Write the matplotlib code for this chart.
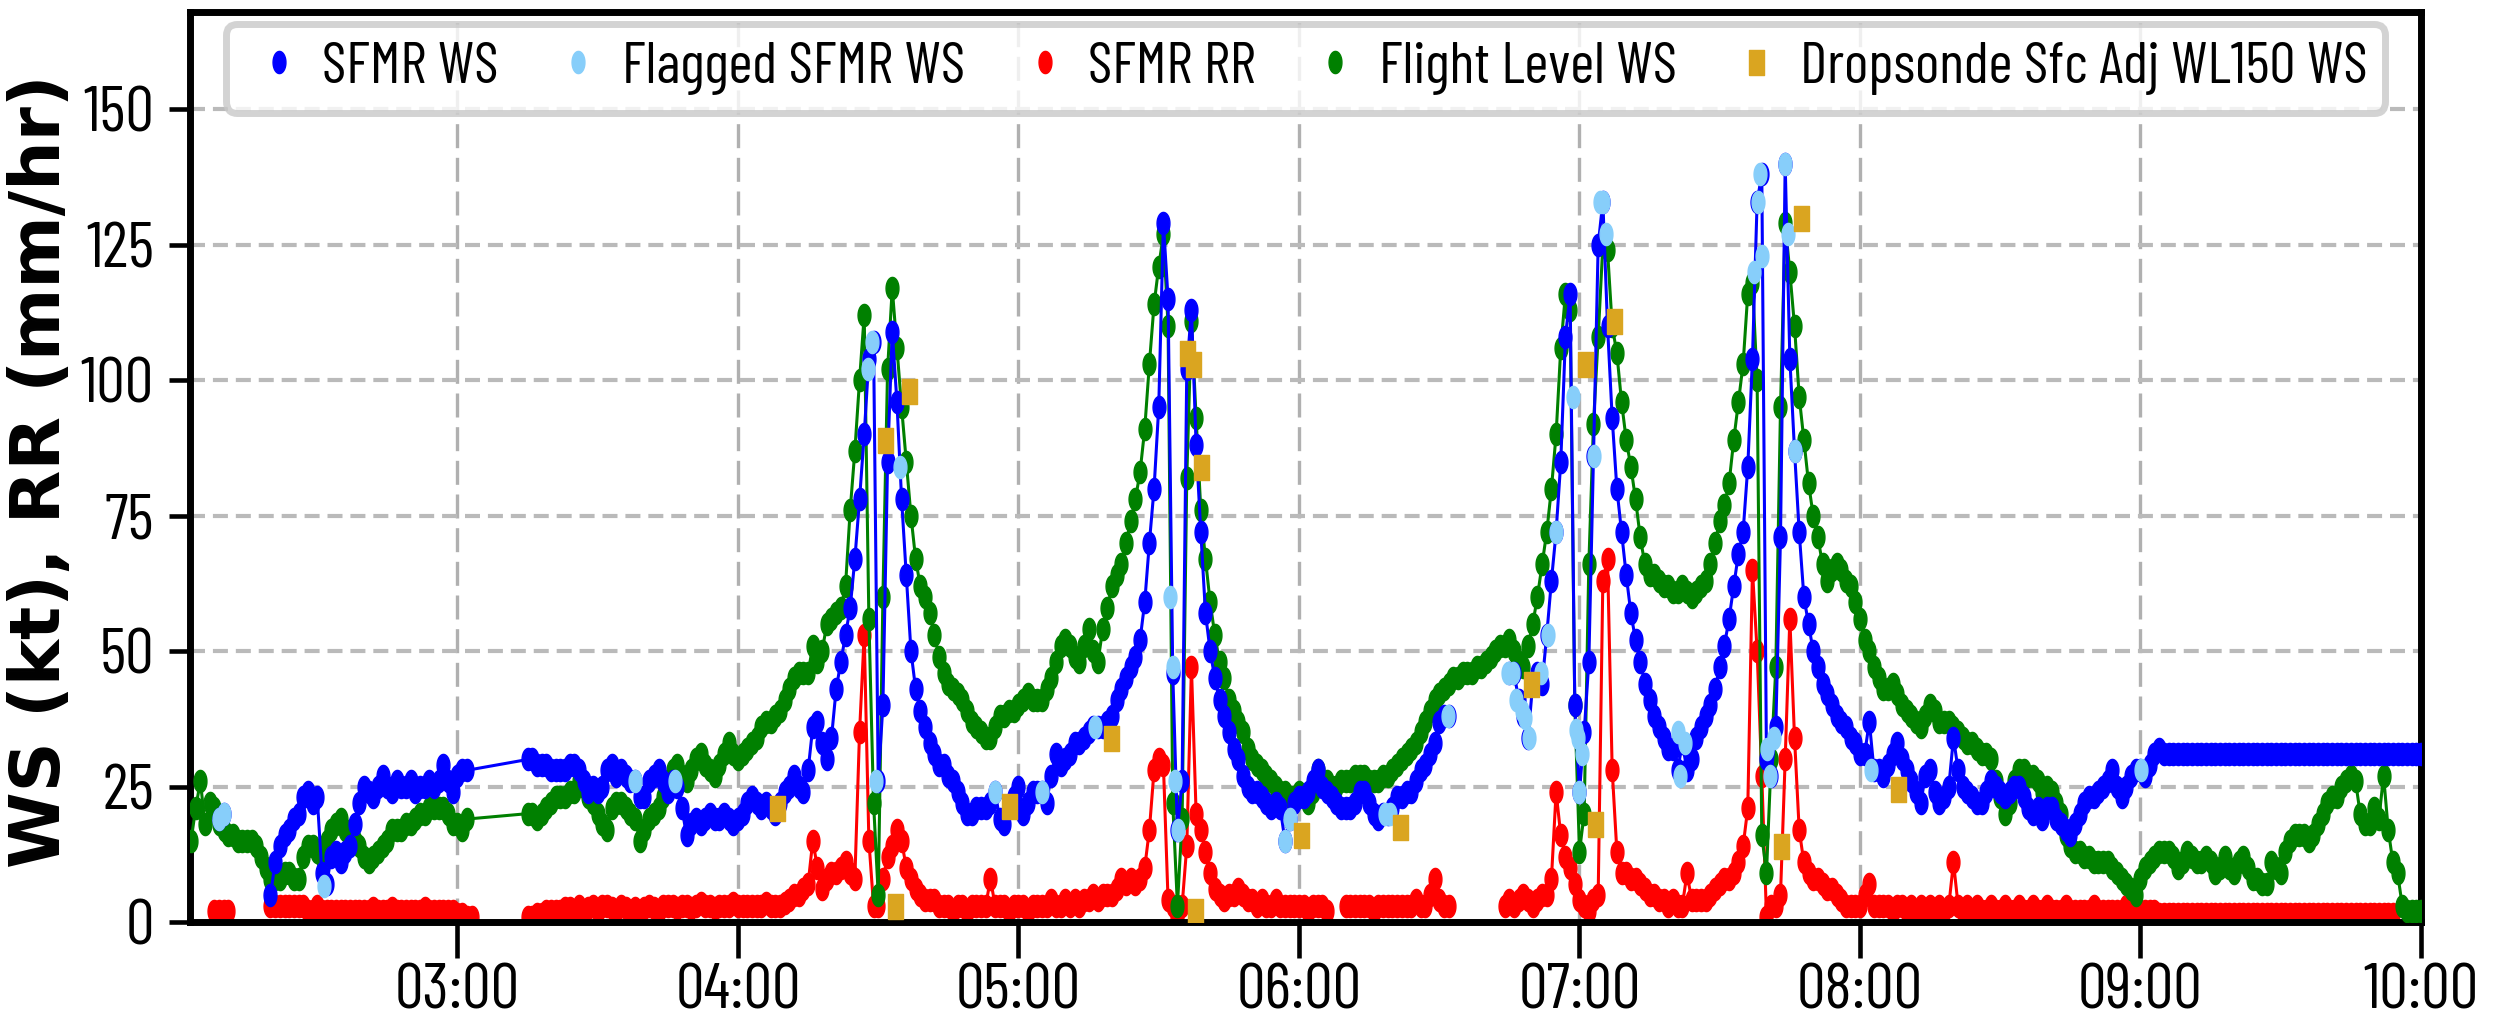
import numpy as np
import pandas as pd
import matplotlib
matplotlib.use('Agg')
import matplotlib.pyplot as plt
import matplotlib.dates as mdates
from matplotlib.ticker import MultipleLocator
from matplotlib.lines import Line2D

nan = np.nan

# one value per minute, minute 0 = 02:00 UTC, last = 10:00
sfmr_ws = [
    nan, nan, nan, nan, nan, nan, nan, nan, nan, 19,   # 02:00
    20, nan, nan, nan, nan, nan, nan, nan, nan, nan,
    5, 11, 14, 16, 17, 19, 20, 23, 24, 22,
    23, 9, 7, 12, 13, 11, 13, 14, 18, 22,
    25, 24, 23, 25, 27, 25, 24, 26, 25, 25,
    26, 24, 25, 25, 26, 25, 26, 29, 26, 24,
    27, 28, 28, nan, nan, nan, nan, nan, nan, nan,      # 03:00
    nan, nan, nan, nan, nan, 30, 30, 29, 29, 29,
    28, 28, 28, 28, 29, 29, 28, 26, 24, 25,
    24, 25, 28, 29, 27, 28, 27, 26, 26, 23,
    23, 26, 27, 28, 26, 24, 26, 25, 21, 16,
    18, 19, 18, 19, 20, 19, 19, 20, 19, 18,
    19, 20, 22, 23, 22, 21, 22, 21, 20, 22,            # 04:00
    24, 25, 27, 25, 24, 28, 36, 37, 33, 30,
    34, 43, 48, 53, 58, 67, 78, 90, 104, 107,
    26, 40, 85, 109, 96, 78, 64, 50, 43, 39,
    36, 33, 31, 29, 29, 27, 26, 24, 22, 20,
    20, 21, 21, 21, 22, 24, 19, 18, 21, 23,
    25, 20, 22, 24, 24, 24, 22, 27, 31, 29,            # 05:00
    30, 31, 33, 33, 34, 35, 36, 36, 36, 37,
    38, 41, 43, 45, 47, 49, 52, 59, 70, 80,
    95, 129, 115, 46, 17, 26, 102, 113, 88, 72,
    57, 50, 45, 41, 38, 35, 32, 30, 27, 25,
    24, 24, 23, 22, 21, 22, 21, 15, 19, 22,
    23, 23, 24, 26, 28, 25, 24, 23, 22, 21,            # 06:00
    21, 21, 22, 24, 24, 22, 20, 19, 20, 20,
    21, 23, 23, 24, 24, 26, 28, 29, 31, 33,
    37, 38, 38, nan, nan, nan, nan, nan, nan, nan,
    nan, nan, nan, nan, nan, 46, 46, 41, 38, 34,
    44, 46, 44, 53, 63, 72, 85, 108, 116, 40,
    24, 35, 48, 86, 125, 133, 110, 93, 80, 72,         # 07:00
    64, 57, 52, 48, 44, 41, 38, 36, 34, 32,
    32, 28, 33, 28, 30, 34, 36, 38, 40, 43,
    47, 51, 56, 62, 68, 72, 84, 104, 133, 138,
    30, 27, 36, 71, 140, 104, 87, 72, 60, 55,
    50, 47, 44, 42, 40, 38, 37, 36, 34, 33,
    31, 31, 37, 28, 28, 27, 29, 31, 33, 30,            # 08:00
    28, 26, 24, 22, 27, 28, 24, 22, 23, 25,
    34, 28, 25, 24, 23, 22, 22, 24, 26, 25,
    24, 23, 24, 25, 25, 23, 21, 20, 21, 19,
    21, 21, 19, 18, 17, 16, 18, 20, 22, 23,
    23, 24, 25, 26, 28, 25, 23, 25, 27, 28,
    28, 27, 29, 31, 32, 31, 31, 31, 31, 31,            # 09:00
] + [31] * 51

sfmr_rr = [
    nan, nan, nan, nan, nan, nan, nan, nan, 2, 2,      # 02:00
    2, 2, nan, nan, nan, nan, nan, nan, nan, nan,
    3, 3, 3, 3, 3, 3, 3, 3, 2, 2,
    3, 2, 2, 2, 2, 2, 2, 2, 2, 2,
    2, 2, 2.5, 2, 2, 2, 2.5, 2, 2, 2,
    2, 2, 2, 2.5, 2, 2, 2, 2, 2, 2,
    1.5, 1.5, 1, 1, nan, nan, nan, nan, nan, nan,      # 03:00
    nan, nan, nan, nan, nan, 1, 1, 1.5, 1.5, 2,
    2, 2, 2, 2.5, 2.5, 2, 3, 2, 2.5, 3,
    2, 3, 3, 2.5, 2, 3, 2.5, 2, 2.5, 2,
    2.5, 3, 2.5, 2, 3, 3, 3, 2.5, 3, 3,
    2.5, 3, 3.5, 3, 3, 2.5, 3, 3, 3, 3.5,
    3, 3, 3, 3, 3, 3, 3.5, 3, 3, 3,                    # 04:00
    3.5, 4, 5, 5, 6, 7, 15, 10, 6, 8,
    9, 9, 10, 11, 9, 8, 35, 53, 15, 3,
    3, 8, 12, 14, 17, 15, 10, 8, 6, 5,
    4, 4, 4, 3, 3, 3, 2, 3, 3, 2,
    3, 3, 3, 3, 8, 3, 3, 3, 2, 3,
    3, 3, 2, 3, 3, 3, 3, 4, 3, 3,                      # 05:00
    4, 3, 4, 3, 4, 4, 5, 4, 5, 5,
    5, 6, 8, 7, 8, 7, 8, 10, 17, 28,
    30, 29, 4, 3, 1, 3, 14, 47, 20, 17,
    13, 9, 6, 5, 4, 5, 5, 6, 5, 4,
    4, 3, 4, 3, 3, 4, 3, 3, 3, 3,
    3, 3, 2, 3, 3, 3, 2, nan, nan, nan,                # 06:00
    3, 3, 3, 3, 3, 3, 2, 3, 3, 3,
    3, 3, 3, 3, 3, 4, 3, 3, 5, 8,
    4, 3, 3, nan, nan, nan, nan, nan, nan, nan,
    nan, nan, nan, nan, 3, 4, 3, 4, 5, 4,
    3, 4, 5, 5, 8, 24, 16, 12, 10, 7,
    4, 3, 2, 4, 5, 63, 67, 28, 13, 9,                  # 07:00
    9, 8, 8, 7, 6, 5, 5, 4, 4, 3,
    4, 3, 3, 9, 4, 4, 4, 4, 5, 6,
    7, 8, 8, 9, 11, 14, 21, 65, 50, 27,
    1, 3, 3, 5, 30, 56, 34, 17, 11, 9,
    8, 8, 7, 6, 6, 5, 4, 3, 3, 3,
    3, 5, 7, 3, 3, 3, 3, 2, 3, 3,                      # 08:00
    2, 3, 2, 3, 2, 3, 2, 3, 2, 3,
    11, 3, 2, 3, 2, 3, 2, 2, 3, 2,
    2, 3, 2, 2, 3, 2, 2, 3, 2, 2,
    3, 2, 2, 2, 3, 2, 2, 2, 2, 2,
    3, 2, 2, 2, 2, 2, 2, 3, 2, 2,
    2, 2, 2, 2, 1.5, 1.5, 1.5, 1.5, 1.5, 1.5,          # 09:00
] + [1.5] * 45 + [nan] * 6

flight_ws = [
    nan, nan, nan, 15, 21, 26, 18, 22, 21, 18,         # 02:00
    17, 16, 16, 15, 15, 15, 15, 14, 12, 10,
    8, 8, 8, 9, 9, 8, 8, 12, 14, 14,
    13, 12, 15, 17, 18, 19, 17, 15, 15, 14,
    12, 11, 12, 13, 14, 15, 17, 17, 17, 18,
    18, 19, 20, 20, 21, 21, 21, 21, 20, 18,
    18, 17, 19, nan, nan, nan, nan, nan, nan, nan,     # 03:00
    nan, nan, nan, nan, nan, 20, 20, 19, 20, 21,
    22, 23, 23, 23, 24, 24, 26, 25, 23, 22,
    20, 18, 17, 21, 22, 22, 21, 20, 19, 15,
    17, 19, 20, 21, 23, 26, 28, 29, 27, 26,
    28, 30, 31, 29, 28, 27, 29, 31, 33, 31,
    30, 31, 32, 33, 34, 36, 37, 37, 38, 39,            # 04:00
    41, 43, 45, 46, 46, 46, 51, 48, 50, 55,
    56, 57, 58, 62, 76, 87, 100, 112, 56, 22,
    5, 60, 102, 117, 106, 95, 85, 75, 67, 62,
    60, 57, 53, 49, 46, 44, 43, 42, 41, 39,
    37, 36, 35, 34, 34, 36, 38, 38, 39, 39,
    40, 41, 42, 41, 41, 41, 43, 45, 48, 51,            # 05:00
    52, 51, 49, 48, 51, 54, 50, 48, 54, 58,
    62, 64, 66, 70, 74, 78, 83, 91, 103, 114,
    121, 127, 110, 22, 3, 19, 82, 111, 93, 76,
    67, 59, 53, 48, 45, 41, 39, 37, 35, 32,
    30, 29, 28, 27, 26, 25, 24, 24, 23, 23,
    24, 23, 22, 24, 28, 26, 26, 25, 25, 26,            # 06:00
    26, 26, 27, 27, 27, 26, 26, 26, 27, 27,
    28, 29, 30, 31, 32, 33, 35, 37, 39, 41,
    42, 43, 44, 45, 45, 46, 46, 46, 47, 47,
    48, 49, 50, 51, 51, 52, 50, 48, 47, 51,
    55, 60, 66, 72, 80, 90, 106, 116, 113, 40,
    13, 20, 66, 92, 108, 125, 124, 110, 105, 96,       # 07:00
    89, 84, 78, 71, 66, 64, 64, 63, 62, 62,
    61, 61, 62, 61, 60, 61, 62, 63, 66, 70,
    74, 77, 81, 89, 96, 103, 116, 118, 100, 16,
    9, 30, 47, 95, 129, 120, 110, 97, 89, 81,
    75, 71, 66, 63, 65, 66, 65, 63, 62, 59,
    56, 52, 50, 47, 45, 43, 43, 44, 42, 40,            # 08:00
    39, 38, 37, 36, 38, 40, 39, 37, 37, 37,
    36, 35, 34, 33, 33, 32, 31, 31, 30, 26,
    23, 20, 22, 26, 28, 28, 27, 27, 26, 24,
    25, 24, 22, 20, 16, 14, 13, 13, 12, 12,
    11, 11, 11, 11, 10, 9, 8, 7, 6, 5,
    8, 10, 11, 12, 13, 13, 13, 12, 10, 11,             # 09:00
    13, 12, 11, 11, 12, 11, 9, 10, 12, 10,
    9, 11, 12, 10, 8, 8, 7, 7, 11, 10,
    9, 13, 15, 16, 16, 16, 15, 16, 18, 20,
    22, 23, 23, 25, 26, 27, 26, 20, 18, 18,
    21, 19, 27, 17, 11, 9, 3, 2, 2, 2,
    2,                                                 # 10:00
]

# flagged SFMR winds (minutes after 02:00, kt)
flag_min = [9, 10, 31.5, 98, 106.5, 147.8, 148.6, 149.6, 154.6, 175, 185, 196.3,
            212.4, 213.1, 213.4, 214.1, 237, 238, 258.3, 259.5, 271.9,
            284.7, 285.7, 286.5, 287.6, 288.3, 289.3, 291.8, 293.2, 295,
            298.6, 299.3, 299.7, 300, 300.5, 303.2, 304.3, 305, 305.7,
            321, 321.4, 322.5, 337.4, 338.2, 338.7, 339.1, 340.1, 340.7, 341.7,
            344, 344.6, 346, 362.4, 420.1]
flag_ws = [19, 20, 6.6, 26, 26, 102, 107, 26, 84, 24, 24, 36,
           60, 47, 26, 17, 15, 19, 20, 20, 38,
           46, 46, 41, 39, 37.6, 34, 46, 53, 72,
           97, 35.5, 34, 24, 31, 86, 133, 133, 127,
           35, 27, 33, 120, 133, 138, 123, 32, 27, 34,
           140, 127, 87, 28, 28]

# dropsondes (minutes after 02:00, kt)
drop_min = [128.3, 151.5, 153.5, 156.5, 178, 199.7, 216, 217.3, 217.8, 219,
            240.5, 261.7, 289.7, 301.1, 303.4, 307.4, 343.1, 347.3, 368.2]
drop_ws = [21, 89, 3, 98, 21.5, 34, 105, 103, 2, 84,
           16, 17.5, 44, 103, 18, 111, 14, 130, 24.5]

labels = ['SFMR WS', 'Flagged SFMR WS', 'SFMR RR', 'Flight Level WS',
          'Dropsonde Sfc Adj WL150 WS']

plt.rcParams['font.family'] = ['Barlow Condensed', 'Roboto Condensed', 'DejaVu Sans']

base = pd.Timestamp('2000-01-01 02:00')
minute = np.arange(len(flight_ws))
t = base + pd.to_timedelta(minute, unit='min')
t_flag = base + pd.to_timedelta(flag_min, unit='min')
t_drop = base + pd.to_timedelta(drop_min, unit='min')

ws = np.array(sfmr_ws, float)
rr = np.array(sfmr_rr, float)
fl = np.array(flight_ws, float)

# 03:03-03:14 has no data but the line is drawn straight across it
bridge = (minute > 62) & (minute < 75)

# picture was squeezed sideways: markers are taller than wide
th = np.linspace(0, 2 * np.pi, 41)
dot = np.column_stack([0.58 * np.cos(th), np.sin(th)])
sq = [(-0.6, -1), (0.6, -1), (0.6, 1), (-0.6, 1), (-0.6, -1)]
ms = 16
lw = 2.2

fig = plt.figure(figsize=(25.01, 10.25), dpi=100)
ax = fig.add_axes([0.0760, 0.1005, 0.8920, 0.8878])

ax.plot(t, rr, '-', color='red', lw=lw, zorder=2)
ax.plot(t, rr, ls='none', marker=dot, ms=ms, color='red', zorder=2)
keep = ~(np.isnan(fl) & bridge)
ax.plot(t[keep], fl[keep], '-', color='green', lw=lw, zorder=3)
ax.plot(t, fl, ls='none', marker=dot, ms=ms, color='green', zorder=3)
keep = ~(np.isnan(ws) & bridge)
ax.plot(t[keep], ws[keep], '-', color='blue', lw=lw, zorder=4)
ax.plot(t, ws, ls='none', marker=dot, ms=ms, color='blue', zorder=4)
ax.plot(t_flag, flag_ws, ls='none', marker=dot, ms=ms, color='lightskyblue', zorder=5)
ax.plot(t_drop, drop_ws, ls='none', marker=sq, ms=18, color='goldenrod', zorder=6)

ax.set_xlim(base + pd.Timedelta(minutes=2.8), base + pd.Timedelta(minutes=480))
ax.set_ylim(0, 168)
ax.xaxis.set_major_locator(mdates.HourLocator())
ax.xaxis.set_major_formatter(mdates.DateFormatter('%H:%M'))
ax.yaxis.set_major_locator(MultipleLocator(25))

ax.yaxis.grid(True, color='#bababa', lw=3, ls=(0, (3.6, 1.9)))
ax.xaxis.grid(True, color='#b0b0b0', lw=2.4, ls=(0, (7.2, 2.9)))
ax.set_axisbelow(True)

for s in ax.spines.values():
    s.set_linewidth(5)
ax.tick_params(axis='x', length=26, width=3.3, pad=4, labelsize=46)
ax.tick_params(axis='y', length=15, width=3.3, pad=11, labelsize=46)

ax.set_ylabel('WS (kt), RR (mm/hr)', family='DejaVu Sans', weight='bold', fontsize=50)
ax.yaxis.set_label_coords(-0.0520, 0.495)

colors = ['blue', 'lightskyblue', 'red', 'green', 'goldenrod']
handles = [Line2D([], [], ls='none', marker=sq if c == 'goldenrod' else dot,
                  ms=18 if c == 'goldenrod' else ms, color=c, label=l)
           for c, l in zip(colors, labels)]
leg = ax.legend(handles=handles, loc='upper center', bbox_to_anchor=(0.5, 1.0),
                ncol=5, fontsize=42, handlelength=1.2, handletextpad=0.14,
                columnspacing=0.77, borderaxespad=0.2, borderpad=0.31,
                framealpha=0.8, fancybox=True)
leg.get_frame().set_edgecolor('#c8c8c8')
leg.get_frame().set_linewidth(5)

fig.savefig('out.png', dpi=100)
